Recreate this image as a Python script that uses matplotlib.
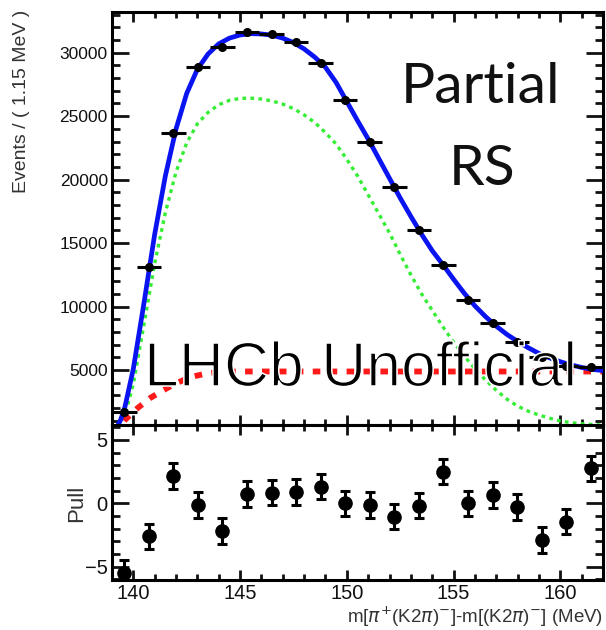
import matplotlib
matplotlib.use("Agg")
import matplotlib.pyplot as plt
import matplotlib.patheffects as pe
from matplotlib.ticker import MultipleLocator

# binned data, 20 bins of 1.15 MeV from 139 to 162
bin_centers = [139.575, 140.725, 141.875, 143.025, 144.175, 145.325, 146.475,
               147.625, 148.775, 149.925, 151.075, 152.225, 153.375, 154.525,
               155.675, 156.825, 157.975, 159.125, 160.275, 161.425]
bin_half = 0.575
counts = [1700, 13100, 23670, 28900, 30470, 31600, 31450, 30870, 29160, 26250,
          22980, 19430, 16050, 13290, 10530, 8710, 7220, 6030, 5350, 5220]
count_err = [42, 115, 154, 170, 175, 178, 177, 176, 171, 162,
             152, 139, 127, 115, 103, 93, 85, 78, 73, 72]
pulls = [-5.5, -2.6, 2.15, -0.13, -2.2, 0.73, 0.83, 0.9, 1.3, 0.0,
         -0.13, -1.05, -0.2, 2.5, 0.0, 0.65, -0.3, -2.9, -1.45, 2.75]
pull_err = [1.0] * 20

# fit curves
total_x = [139.05, 139.2, 139.4, 139.6, 140.0, 140.5, 141.0, 141.5, 142.0, 142.5,
           143.0, 143.5, 144.0, 144.5, 145.0, 145.5, 146.0, 146.5, 147.0, 147.5,
           148.0, 148.5, 149.0, 149.5, 150.0, 150.5, 151.0, 151.5, 152.0, 152.5,
           153.0, 153.5, 154.0, 154.5, 155.0, 155.5, 156.0, 156.5, 157.0, 157.5,
           158.0, 158.5, 159.0, 159.5, 160.0, 160.5, 161.0, 161.5, 162.0]
total_y = [200, 400, 1050, 2050, 5100, 10300, 15700, 20300, 24000, 26800,
           28700, 29900, 30700, 31150, 31400, 31500, 31480, 31380, 31150, 30800,
           30300, 29650, 28850, 27650, 26150, 24650, 23200, 21650, 20100, 18550,
           17100, 15700, 14400, 13300, 12150, 11050, 10050, 9200, 8450, 7800,
           7250, 6750, 6300, 5950, 5650, 5400, 5200, 5050, 4950]

sig_x = [139.05, 139.3, 139.6, 140.0, 140.5, 141.0, 141.5, 142.0, 142.5, 143.0,
         143.5, 144.0, 144.5, 145.0, 145.5, 146.0, 146.5, 147.0, 147.5, 148.0,
         148.5, 149.0, 149.5, 150.0, 150.5, 151.0, 151.5, 152.0, 152.5, 153.0,
         153.5, 154.0, 154.5, 155.0, 155.5, 156.0, 156.5, 157.0, 157.5, 158.0,
         158.5, 159.0, 159.5, 160.0, 160.5, 161.0, 161.5, 162.0]
sig_y = [100, 500, 1400, 3900, 8600, 13400, 17400, 20600, 22900, 24400,
         25300, 25900, 26250, 26400, 26420, 26350, 26200, 25950, 25600, 25100,
         24500, 23700, 22800, 21600, 20300, 18800, 17300, 15800, 14100, 12500,
         11000, 9700, 8400, 7200, 6100, 5100, 4200, 3400, 2700, 2150,
         1750, 1450, 1200, 980, 850, 760, 700, 650]

bkg_x = [139.05, 139.3, 139.6, 140.2, 140.8, 141.4, 142.0, 142.7, 143.5, 144.2,
         145.0, 146.0, 150.0, 155.0, 162.0]
bkg_y = [0, 300, 1050, 2000, 2800, 3400, 3950, 4450, 4750, 4850,
         4880, 4880, 4880, 4880, 4880]

plt.rcParams['font.family'] = ['Liberation Sans', 'DejaVu Sans']

fig = plt.figure(figsize=(6.06, 6.30), dpi=100)
W, H = 606, 630
left, right = 112, 603
top_t, top_b, bot_b = 12, 425, 580

ax1 = fig.add_axes([left / W, 1 - top_b / H, (right - left) / W, (top_b - top_t) / H])
ax2 = fig.add_axes([left / W, 1 - bot_b / H, (right - left) / W, (bot_b - top_b) / H])

for ax in (ax1, ax2):
    for s in ax.spines.values():
        s.set_linewidth(2.2)
    ax.set_xlim(139.0, 162.0)
    ax.xaxis.set_major_locator(MultipleLocator(5))
    ax.xaxis.set_minor_locator(MultipleLocator(1))
    ax.tick_params(which='both', direction='in', top=True, right=True,
                   width=2, colors='#111', labelsize=13)
    ax.tick_params(axis='x', which='major', length=7)
    ax.tick_params(axis='x', which='minor', length=4)
    ax.tick_params(axis='y', which='major', length=12)
    ax.tick_params(axis='y', which='minor', length=6)

# top panel
ax1.plot(sig_x, sig_y, color='#33ee33', lw=2.4, linestyle=(0, (1.1, 1.3)), zorder=2)
ax1.plot(bkg_x, bkg_y, color='#ff1a1a', lw=4.2, linestyle=(0, (1.3, 1.6)), zorder=2)
ax1.plot(total_x, total_y, color='#0a14f0', lw=3.4, zorder=3)
ax1.errorbar(bin_centers, counts, xerr=bin_half, yerr=count_err, fmt='o',
             color='black', ms=5.5, elinewidth=2.2, capsize=0, zorder=4)
ax1.set_ylim(663, 33210)
ax1.yaxis.set_major_locator(MultipleLocator(5000))
ax1.yaxis.set_minor_locator(MultipleLocator(1000))
ax1.tick_params(axis='y', labelsize=12.5, pad=3)
ax1.tick_params(axis='x', labelbottom=False)

# pull panel
ax2.errorbar(bin_centers, pulls, yerr=pull_err, fmt='o', color='black',
             ms=9.5, elinewidth=2.2, capsize=3.5, capthick=2.2, zorder=3)
ax2.set_ylim(-6.06, 6.18)
ax2.yaxis.set_major_locator(MultipleLocator(5))
ax2.yaxis.set_minor_locator(MultipleLocator(1))
ax2.tick_params(axis='both', labelsize=14.5, pad=3)

fig.text(22 / W, 1 - 10 / H, "Events / ( 1.15 MeV )", rotation=90,
         ha='center', va='top', fontsize=14, color='#333')
fig.text(77 / W, 1 - 503 / H, "Pull", rotation=90, ha='center', va='center',
         fontsize=16, color='#333')
fig.text(603 / W, 1 - 617 / H,
         r"m[$\pi^{+}$(K2$\pi$)$^{-}$]-m[(K2$\pi$)$^{-}$] (MeV)",
         ha='right', va='center', fontsize=13.5, color='#333')

fig.text(481 / W, 1 - 103 / H, "Partial", ha='center', va='baseline',
         fontsize=41, family='Lato', color='#111')
fig.text(482 / W, 1 - 185 / H, "RS", ha='center', va='baseline',
         fontsize=41, family='Lato', color='#111')
# thin the regular face a little so it looks like a light sans
fig.text(144 / W, 1 - 386 / H, "LHCb Unofficial", ha='left', va='baseline',
         fontsize=45, family='Liberation Sans', color='black', zorder=10,
         path_effects=[pe.Stroke(linewidth=1.1, foreground='white')])

fig.savefig("out.png", dpi=100)
